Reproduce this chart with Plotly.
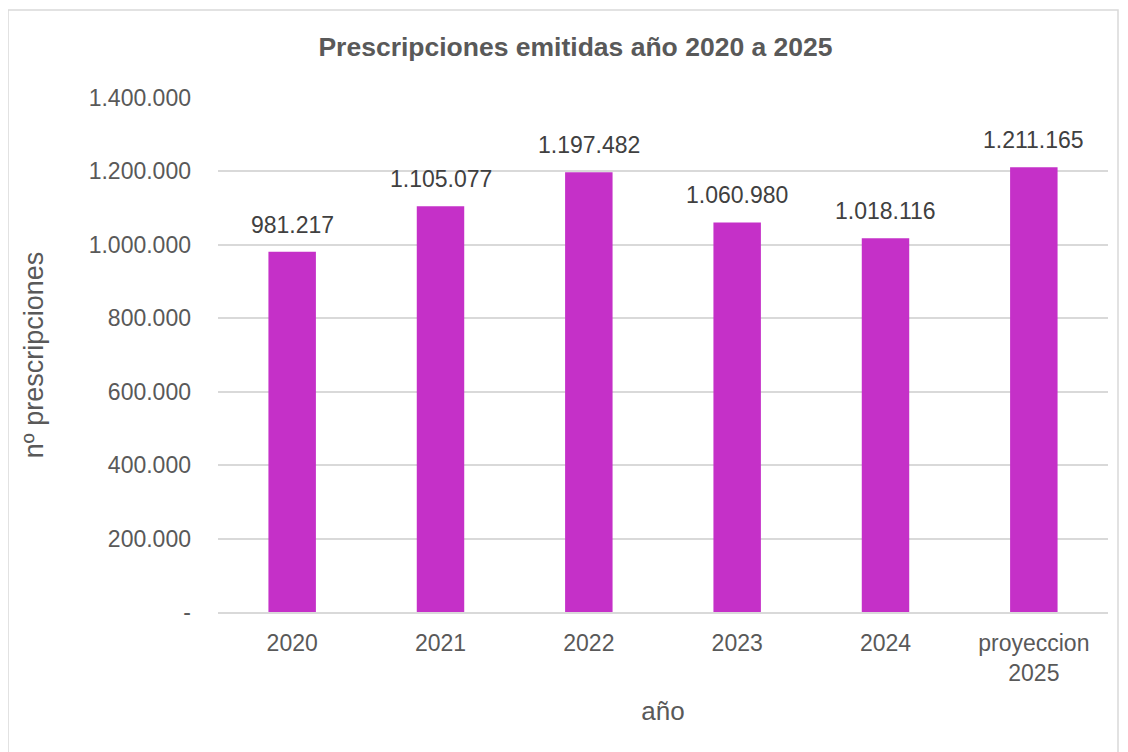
import plotly.graph_objects as go

categories = ["2020", "2021", "2022", "2023", "2024", "proyeccion<br>2025"]
values = [981217, 1105077, 1197482, 1060980, 1018116, 1211165]
labels = ["981.217", "1.105.077", "1.197.482", "1.060.980", "1.018.116", "1.211.165"]
tick_vals = [0, 200000, 400000, 600000, 800000, 1000000, 1200000, 1400000]
tick_text = ["-", "200.000", "400.000", "600.000", "800.000", "1.000.000", "1.200.000", "1.400.000"]

FONT = "Liberation Sans"
GREY = "#595959"

positions = list(range(len(categories)))

# the page body adds an 8px offset; figure geometry is laid out to compensate
W, H = 1120, 744
L, R, T, B = 210, 20, 90, 140
PW, PH = W - L - R, H - T - B

fig = go.Figure()
fig.add_trace(go.Bar(
    x=positions, y=values,
    marker=dict(color="#C530C8", line=dict(width=0)),
    width=0.32,
    hoverinfo="skip",
))

for p, v, t in zip(positions, values, labels):
    fig.add_annotation(x=p, y=v, text=t, showarrow=False, yshift=27,
                       yanchor="middle", font=dict(family=FONT, size=23, color="#404040"))

fig.update_layout(
    width=W, height=H,
    margin=dict(l=L, r=R, t=T, b=B),
    paper_bgcolor="white", plot_bgcolor="white",
    showlegend=False,
    title=dict(text="<b>Prescripciones emitidas año 2020 a 2025</b>", x=567.5 / W,
               xanchor="center", y=1 - 39 / H, yanchor="middle",
               font=dict(family=FONT, size=26.5, color=GREY)),
    font=dict(family=FONT, size=23, color=GREY),
    xaxis=dict(range=[-0.5, len(categories) - 0.5], tickvals=positions, ticktext=categories,
               showgrid=False, zeroline=False, showline=True, linecolor="#D9D9D9", linewidth=2,
               ticks="", ticklabelstandoff=9, tickfont=dict(size=23, color=GREY),
               title=dict(text="año", font=dict(size=26, color=GREY), standoff=17)),
    yaxis=dict(range=[0, 1400000], tickvals=tick_vals, ticktext=tick_text,
               showgrid=True, gridcolor="#D9D9D9", gridwidth=1.5, zeroline=False,
               ticks="", ticklen=0, ticklabelstandoff=26, tickfont=dict(size=23, color=GREY),
               title=dict(text="nº prescripciones", font=dict(size=27, color=GREY), standoff=37)),
)

# chart border
fig.add_shape(type="rect", xref="paper", yref="paper",
              x0=(0 - L) / PW, x1=(1110 - L) / PW,
              y0=(T + PH - 760) / PH, y1=(T + PH - 2) / PH,
              line=dict(color="#D9D9D9", width=1.5), fillcolor="rgba(0,0,0,0)", layer="below")

fig.write_html("out.html")
